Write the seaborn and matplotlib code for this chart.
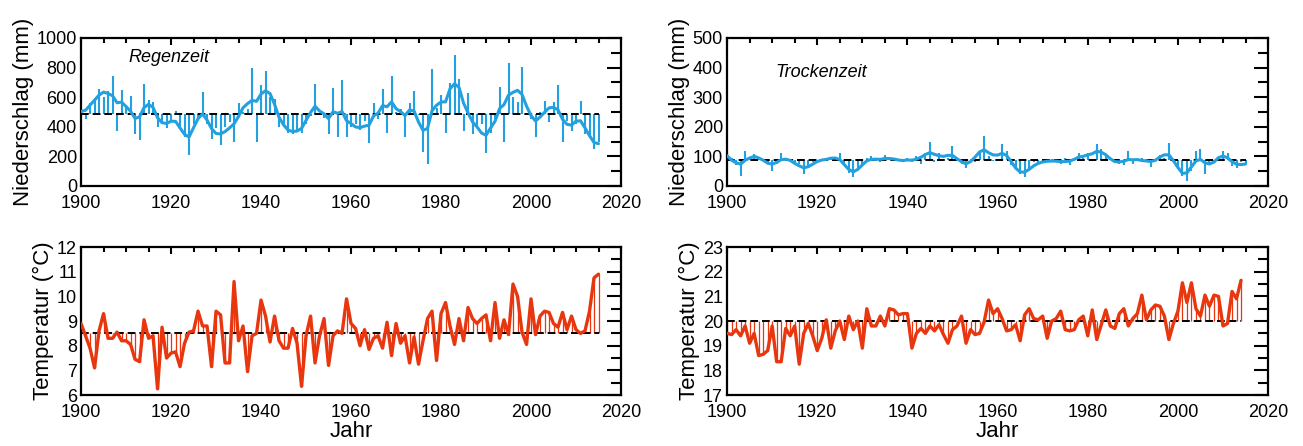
import numpy as np
import pandas as pd
import matplotlib
matplotlib.use("Agg")
import matplotlib.pyplot as plt
from matplotlib.ticker import MultipleLocator
import seaborn as sns

# ---------------- data ----------------
START_YEAR = 1900

rain_precip = [
    520, 450, 560, 580, 655, 600, 640, 740, 370, 650,
    530, 610, 350, 310, 690, 580, 570, 400, 420, 390,
    440, 510, 400, 330, 210, 420, 450, 635, 420, 320,
    390, 280, 400, 430, 300, 560, 500, 520, 795, 300,
    680, 780, 600, 590, 400, 420, 360, 350, 380, 360,
    420, 470, 690, 480, 460, 350, 660, 330, 715, 330,
    400, 420, 380, 440, 290, 560, 450, 655, 360, 740,
    500, 520, 330, 560, 640, 480, 230, 150, 790, 530,
    615, 360, 695, 885, 720, 370, 630, 350, 400, 420,
    225, 360, 450, 670, 300, 830, 600, 565, 805, 485,
    450, 330, 500, 575, 430, 565, 680, 295, 440, 370,
    420, 575, 350, 330, 250, 295,
]
rain_precip_mean = 485

dry_precip = [
    118, 95, 70, 35, 118, 90, 107, 95, 92, 80,
    50, 75, 113, 88, 85, 80, 75, 40, 62, 80,
    85, 90, 88, 92, 95, 112, 70, 45, 30, 55,
    70, 95, 100, 85, 80, 105, 90, 95, 85, 80,
    95, 80, 100, 75, 110, 149, 80, 112, 90, 95,
    135, 85, 75, 60, 90, 80, 115, 169, 100, 85,
    90, 141, 118, 70, 60, 40, 29, 57, 80, 75,
    80, 85, 90, 82, 75, 95, 70, 85, 112, 95,
    112, 85, 141, 124, 100, 90, 80, 75, 70, 118,
    75, 85, 95, 90, 65, 85, 105, 95, 144, 80,
    57, 35, 18, 50, 118, 124, 40, 70, 80, 95,
    118, 110, 68, 60, 80, 75,
]
dry_precip_mean = 87

rain_temp = [
    8.9, 8.4, 7.9, 7.1, 8.6, 9.3, 8.3, 8.3, 8.55, 8.2,
    8.2, 8.05, 7.45, 7.35, 9.05, 8.3, 8.4, 6.25, 8.75, 7.5,
    7.7, 7.75, 7.15, 8.1, 8.55, 8.6, 9.4, 8.8, 8.8, 7.15,
    9.4, 9.25, 7.3, 7.3, 10.6, 8.2, 8.8, 6.95, 8.4, 8.5,
    9.85, 9.2, 8.15, 9.2, 8.2, 7.9, 7.9, 8.7, 8.1, 6.35,
    8.4, 9.2, 7.3, 8.4, 9.1, 7.2, 8.4, 8.6, 8.5, 9.9,
    8.9, 8.7, 8.0, 8.65, 7.85, 8.3, 8.4, 7.9, 8.95, 7.6,
    8.9, 8.1, 8.4, 7.3, 8.35, 7.25, 8.2, 9.1, 9.4, 7.4,
    9.3, 9.75, 8.8, 8.05, 9.1, 8.2, 9.55, 9.1, 8.9, 9.1,
    9.25, 8.2, 9.75, 8.3, 9.05, 8.45, 10.5, 10.0, 8.55, 8.05,
    9.9, 8.45, 9.2, 9.4, 9.35, 8.9, 8.75, 9.35, 8.65, 9.2,
    8.65, 8.5, 8.6, 9.4, 10.75, 10.9,
]
rain_temp_mean = 8.5

dry_temp = [
    19.5, 19.45, 19.65, 19.4, 19.8, 19.1, 19.5, 18.6, 18.65, 18.8,
    19.8, 18.35, 18.35, 19.7, 19.4, 19.8, 18.25, 19.5, 19.9, 19.4,
    18.8, 19.3, 20.05, 18.9, 19.6, 20.0, 19.25, 20.2, 19.65, 20.0,
    18.9, 20.5, 19.8, 19.8, 20.2, 19.8, 20.5, 20.45, 20.25, 20.3,
    20.3, 18.9, 19.5, 19.7, 19.5, 19.8, 19.6, 19.85, 19.45, 19.1,
    19.65, 19.8, 20.2, 19.1, 19.65, 19.45, 19.5, 19.95, 20.85, 20.3,
    20.5, 20.1, 19.6, 19.65, 19.85, 19.2, 20.25, 20.5, 20.1, 20.05,
    20.2, 19.3, 20.0, 20.1, 20.4, 19.65, 19.6, 19.65, 20.05, 20.2,
    19.4, 20.45, 19.25, 19.85, 20.45, 19.8, 19.7, 20.3, 20.5, 19.8,
    20.1, 20.3, 21.05, 20.05, 20.45, 20.65, 20.6, 20.2, 19.25, 19.9,
    20.4, 21.55, 20.75, 21.55, 20.5, 20.2, 21.05, 20.6, 21.05, 21.0,
    19.8, 19.9, 21.2, 20.9, 21.65,
]
dry_temp_mean = 20.0

season_labels = ["Regenzeit", "Trockenzeit"]
ylabel_precip = "Niederschlag (mm)"
ylabel_temp = "Temperatur (°C)"
xlabel = "Jahr"
SMOOTH_WEIGHTS = [1, 2, 3, 2, 1]   # triangular running-mean filter

# ---------------- style ----------------
sns.set_style("white")
plt.rcParams["font.family"] = ["Liberation Sans", "DejaVu Sans"]
plt.rcParams["text.color"] = "black"
plt.rcParams["axes.labelcolor"] = "black"
plt.rcParams["xtick.color"] = "black"
plt.rcParams["ytick.color"] = "black"
BLUE = "#22a0e0"
RED = "#e8370f"

fig = plt.figure(figsize=(13.03, 4.46), dpi=100)
ax_tl = fig.add_axes([0.0622, 0.5830, 0.4144, 0.3318])
ax_tr = fig.add_axes([0.5580, 0.5830, 0.4152, 0.3318])
ax_bl = fig.add_axes([0.0622, 0.1143, 0.4144, 0.3318])
ax_br = fig.add_axes([0.5580, 0.1143, 0.4152, 0.3318])


def smooth(values):
    v = np.asarray(values, dtype=float)
    w = np.asarray(SMOOTH_WEIGHTS, dtype=float)
    num = np.convolve(v, w, mode="same")
    den = np.convolve(np.ones_like(v), w, mode="same")
    return num / den


def frame(ax, ylim, ymaj, ymin):
    ax.set_xlim(1900, 2020)
    ax.set_ylim(*ylim)
    ax.xaxis.set_major_locator(MultipleLocator(20))
    ax.xaxis.set_minor_locator(MultipleLocator(5))
    ax.yaxis.set_major_locator(MultipleLocator(ymaj))
    ax.yaxis.set_minor_locator(MultipleLocator(ymin))
    ax.tick_params(which="both", direction="in", top=True, right=True,
                   width=1.5, color="black", labelcolor="black", labelsize=13)
    ax.tick_params(axis="y", which="major", length=10, pad=3)
    ax.tick_params(axis="y", which="minor", length=7)
    ax.tick_params(axis="x", which="major", length=5, pad=6.5)
    ax.tick_params(axis="x", which="minor", length=3.5)
    for s in ax.spines.values():
        s.set_linewidth(1.6)
        s.set_color("black")
    ax.grid(False)


def precip_panel(ax, values, mean, label, ylim, ymaj, ymin, tx, ty):
    years = START_YEAR + np.arange(len(values))
    df = pd.DataFrame({"Jahr": years, "P": values})
    df["smooth"] = smooth(values)
    ax.vlines(df["Jahr"], mean, df["P"], color=BLUE, linewidth=1.5, zorder=2)
    ax.hlines(mean, years[0], years[-1], color="black", linewidth=1.4,
              linestyles=(0, (4, 2)), zorder=3)
    sns.lineplot(data=df, x="Jahr", y="smooth", ax=ax, color=BLUE,
                 linewidth=2.2, estimator=None, errorbar=None, zorder=4)
    frame(ax, ylim, ymaj, ymin)
    ax.set_xlabel("")
    ax.set_ylabel(ylabel_precip, fontsize=16, labelpad=2)
    ax.text(tx, ty, label, transform=ax.transAxes, fontsize=13,
            fontstyle="italic", ha="left", va="center")


def temp_panel(ax, values, mean, ylim):
    years = START_YEAR + np.arange(len(values))
    df = pd.DataFrame({"Jahr": years, "T": values})
    ax.vlines(df["Jahr"], mean, df["T"], color=RED, linewidth=0.9, zorder=2)
    ax.hlines(mean, years[0], years[-1], color="black", linewidth=1.4,
              linestyles=(0, (4, 2)), zorder=3)
    sns.lineplot(data=df, x="Jahr", y="T", ax=ax, color=RED,
                 linewidth=2.4, estimator=None, errorbar=None, zorder=4)
    frame(ax, ylim, 1, 0.5)
    ax.set_xlabel(xlabel, fontsize=16, labelpad=0)
    ax.set_ylabel(ylabel_temp, fontsize=16, labelpad=2)


precip_panel(ax_tl, rain_precip, rain_precip_mean, season_labels[0],
             (0, 1000), 200, 100, 0.087, 0.87)
precip_panel(ax_tr, dry_precip, dry_precip_mean, season_labels[1],
             (0, 500), 100, 50, 0.089, 0.765)
temp_panel(ax_bl, rain_temp, rain_temp_mean, (6, 12))
temp_panel(ax_br, dry_temp, dry_temp_mean, (17, 23))

fig.savefig("out.png", dpi=100)
